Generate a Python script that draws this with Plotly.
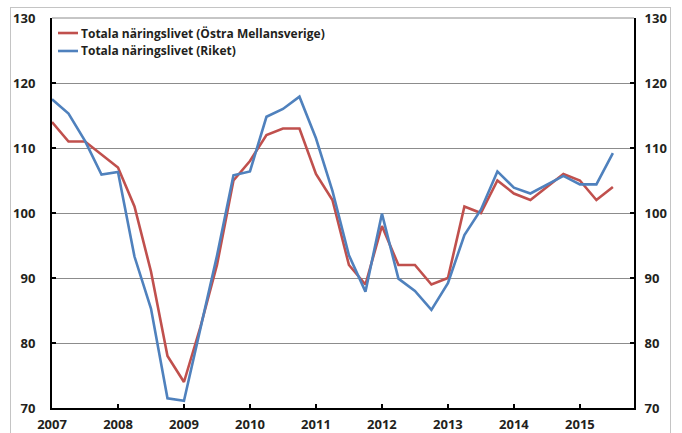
import plotly.graph_objects as go

# Quarterly data 2007K1 .. 2015K3
quarters = [f"{y}K{q}" for y in range(2007, 2016) for q in range(1, 5)][:35]
year_ticks = [2007, 2008, 2009, 2010, 2011, 2012, 2013, 2014, 2015]
year_labels = [str(y) for y in year_ticks]

ostra = [114, 111, 111, 109, 107, 101, 91, 78, 74, 82.5, 92, 105, 108, 112, 113, 113,
         106, 102, 92, 89, 98, 92, 92, 89, 90, 101, 100, 105, 103, 102, 104, 106, 105, 102, 104]
riket = [117.5, 115.3, 111.1, 105.9, 106.3, 93.3, 85.3, 71.5, 71.1, 82, 93.4, 105.8, 106.4,
         114.8, 116, 117.9, 111.5, 103.4, 93.5, 87.9, 99.9, 89.9, 88, 85.1, 89.2, 96.6, 100.5,
         106.4, 103.9, 103, 104.3, 105.7, 104.4, 104.4, 109.2]

name_ostra = "Totala näringslivet (Östra Mellansverige)"
name_riket = "Totala näringslivet (Riket)"
colors = {"ostra": "#C0504D", "riket": "#4F81BD"}

# numeric position of each quarter (year + fraction)
xpos = [int(q[:4]) + (int(q[-1]) - 1) / 4 for q in quarters]

FAM = "Open Sans, Liberation Sans, sans-serif"
FONT = dict(family=FAM, size=13, color="#231f20", weight="bold")
LFONT = dict(family=FAM, size=12, color="#231f20", weight="bold")

fig = go.Figure()
fig.add_trace(go.Scatter(x=xpos, y=ostra, mode="lines", name=name_ostra,
                         line=dict(color=colors["ostra"], width=2.6)))
fig.add_trace(go.Scatter(x=xpos, y=riket, mode="lines", name=name_riket,
                         line=dict(color=colors["riket"], width=2.6)))
# invisible trace to activate right axis
fig.add_trace(go.Scatter(x=[xpos[0]], y=[ostra[0]], yaxis="y2", mode="lines",
                         line=dict(width=0), showlegend=False, hoverinfo="skip"))

axis_common = dict(zeroline=False, showline=True, linecolor="black", linewidth=2,
                   ticks="inside", ticklen=4, tickwidth=2, tickcolor="black",
                   tickfont=FONT, automargin=False)

fig.update_layout(
    width=682, height=433,
    margin=dict(l=52, r=48, t=18, b=25, autoexpand=False),
    paper_bgcolor="white", plot_bgcolor="white",
    font=FONT,
    showlegend=False,
    xaxis=dict(range=[2007, 2015.82], tickvals=year_ticks, ticktext=year_labels,
               showgrid=False, ticklabelstandoff=3, **axis_common),
    yaxis=dict(range=[70, 130], dtick=10, showgrid=True, gridcolor="#8c8c8c", gridwidth=1,
               ticklabelstandoff=12, **axis_common),
    yaxis2=dict(range=[70, 130], dtick=10, overlaying="y", side="right", showgrid=False,
                ticklabelstandoff=6, **axis_common),
)

# top frame line (gray)
fig.add_shape(type="line", xref="paper", yref="paper", x0=0, x1=1, y0=1, y1=1,
              line=dict(color="#8c8c8c", width=1))

# hand-drawn legend (short line samples like the original)
for name, col, ly in [(name_ostra, colors["ostra"], 0.9615), (name_riket, colors["riket"], 0.9154)]:
    fig.add_shape(type="line", xref="paper", yref="paper", x0=0.0103, x1=0.0447, y0=ly, y1=ly,
                  line=dict(color=col, width=2.6))
    fig.add_annotation(xref="paper", yref="paper", x=0.0465, y=ly, text=name, showarrow=False,
                       xanchor="left", yanchor="middle", font=LFONT)

post = """
document.body.style.margin='0';
var b=document.createElement('div');
b.style.cssText='position:fixed;left:10px;top:7px;width:661px;height:440px;border:1px solid #c4c4c4;pointer-events:none;z-index:9999;box-sizing:border-box;';
document.body.appendChild(b);
"""
fig.write_html("out.html", post_script=post, config={"displayModeBar": False})
